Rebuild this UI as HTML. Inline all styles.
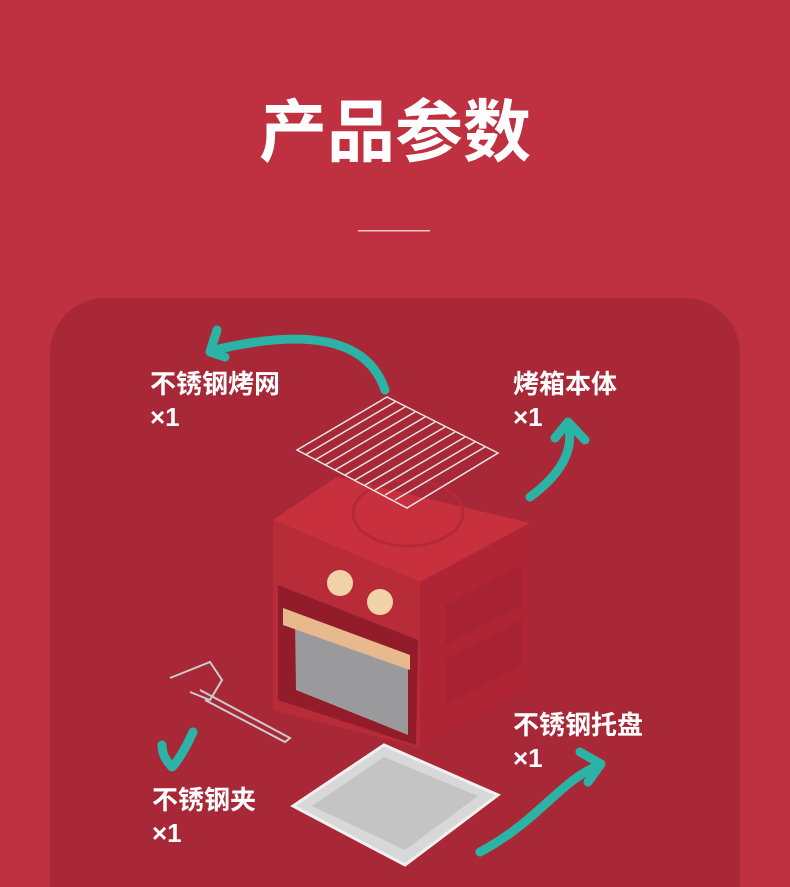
<!DOCTYPE html>
<html><head><meta charset="utf-8"><style>
html,body{margin:0;padding:0;width:790px;height:887px;overflow:hidden;background:#bf3140;}
svg{display:block}
text{font-family:"Liberation Sans","Noto Sans CJK SC",sans-serif;font-weight:bold;fill:#fff}
</style></head><body>
<svg width="790" height="887" viewBox="0 0 790 887">
<rect width="790" height="887" fill="#bf3140"/>
<text x="395" y="156" font-size="68" text-anchor="middle" font-family="Noto Sans CJK SC">产品参数</text>
<rect x="358" y="230" width="72" height="1.5" fill="#f3c9cd"/>
<path d="M50 887 L50 353 A55 55 0 0 1 105 298 L685 298 A55 55 0 0 1 740 353 L740 887 Z" fill="#a82838"/>
<g font-size="26">
<text x="150" y="393">不锈钢烤网</text><text x="150" y="426">×1</text>
<text x="513" y="393">烤箱本体</text><text x="513" y="426">×1</text>
<text x="513" y="734">不锈钢托盘</text><text x="513" y="767">×1</text>
<text x="152" y="809">不锈钢夹</text><text x="152" y="842">×1</text>
</g>
<g stroke="#2bb3a6" stroke-width="9" fill="none" stroke-linecap="round" stroke-linejoin="round">
<path d="M385 390 C370 345 320 325 215 350"/>
<path d="M217 330 L210 352 L225 357"/>
<path d="M530 497 C560 475 575 450 568 425"/>
<path d="M555 438 L568 422 L585 440"/>
<path d="M193 732 C185 750 175 765 172 767 C165 760 162 752 162 745"/>
<path d="M480 852 C540 820 560 780 600 765"/>
<path d="M580 752 L601 764 L588 782"/>
</g>
<polygon points="337,477 530,523 420,582 273,520" fill="#c8303d"/>
<ellipse cx="408" cy="513" rx="55" ry="33" fill="none" stroke="#b52a38" stroke-width="3"/>
<polygon points="420,582 530,523 528,688 420,748" fill="#b02535"/>
<polygon points="273,520 420,582 420,748 273,710" fill="#b82b39"/>
<polygon points="278,585 418,640 416,745 278,700" fill="#921c2a"/>
<polygon points="295,620 408,665 408,735 296,690" fill="#9a9a9c"/>
<polygon points="283,608 410,655 410,670 283,625" fill="#e7b98c"/>
<circle cx="340" cy="583" r="13" fill="#f2d2a8"/>
<circle cx="380" cy="602" r="13" fill="#f2d2a8"/>
<polygon points="445,605 522,565 522,605 445,645" fill="#a72232"/>
<polygon points="445,660 522,620 522,665 445,705" fill="#a72232"/>
<g stroke="#e6e6e6" stroke-width="1.5" fill="none">
<polygon points="297,450 387,397 498,453 407,508"/>
<path d="M305,455 L395,402 M315,460 L405,407 M325,465 L415,412 M335,470 L425,417 M345,475 L435,422 M355,480 L445,427 M365,485 L455,432 M375,490 L465,437 M385,495 L475,442 M395,500 L485,447"/>
</g>
<g stroke="#ccc" stroke-width="2" fill="none">
<path d="M170,678 L210,662 L222,680 L210,700 L190,692 M200,690 L290,738 L285,742 L205,700"/>
</g>
<polygon points="293,806 384,745 498,795 405,865" fill="#d8d8d8" stroke="#f0f0f0" stroke-width="3"/>
<polygon points="312,806 384,757 478,796 405,850" fill="#c4c4c4"/>
</svg>
</body></html>
